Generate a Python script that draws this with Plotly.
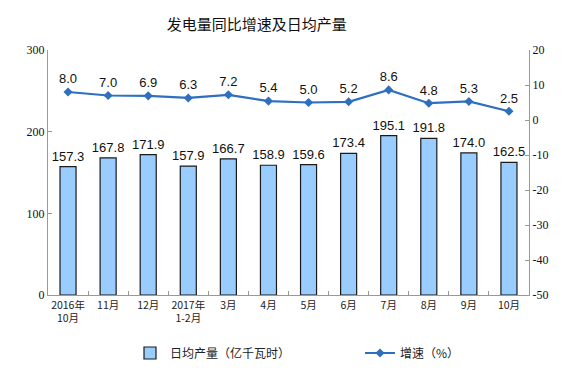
import plotly.graph_objects as go

categories = ["2016年<br>10月", "11月", "12月", "2017年<br>1-2月", "3月", "4月", "5月", "6月", "7月", "8月", "9月", "10月"]
daily_output = [157.3, 167.8, 171.9, 157.9, 166.7, 158.9, 159.6, 173.4, 195.1, 191.8, 174.0, 162.5]
growth = [8.0, 7.0, 6.9, 6.3, 7.2, 5.4, 5.0, 5.2, 8.6, 4.8, 5.3, 2.5]
left_ticks = [0, 100, 200, 300]
right_ticks = [20, 10, 0, -10, -20, -30, -40, -50]

fig = go.Figure()
fig.add_trace(go.Bar(
    x=categories, y=daily_output, name="日均产量（亿千瓦时）",
    marker=dict(color="#99CCFF", line=dict(color="#1a1a1a", width=1.2)),
    width=0.4,
    text=[f"{v:.1f}" for v in daily_output], textposition="outside",
    constraintext="none",
    textfont=dict(family="Liberation Sans, Arial", size=13, color="#111"),
    cliponaxis=False, legend="legend",
))
fig.add_trace(go.Scatter(
    x=categories, y=growth, name="增速（%）", yaxis="y2",
    mode="lines+markers+text",
    line=dict(color="#2E6FC0", width=2.2),
    marker=dict(symbol="diamond", size=7, color="#2E6FC0"),
    text=[f"{v:.1f}" for v in growth], textposition="top center",
    textfont=dict(family="Liberation Sans, Arial", size=13, color="#111"),
    cliponaxis=False, legend="legend2",
))

legend_font = dict(family="Noto Sans CJK SC", size=12, color="#222")
leg_y = (287 - 345) / 245
fig.update_layout(
    width=576, height=377,
    margin=dict(l=40, r=55, t=42, b=90, autoexpand=False),
    paper_bgcolor="white", plot_bgcolor="white",
    title=dict(text="发电量同比增速及日均产量", x=0.432, xanchor="center", y=0.955, yanchor="middle",
               font=dict(family="Noto Sans CJK SC", size=15, color="#111")),
    showlegend=True,
    legend=dict(x=(122 - 40) / 481, xanchor="left", y=leg_y,
                yanchor="middle", font=legend_font, itemwidth=30, bgcolor="rgba(0,0,0,0)"),
    legend2=dict(x=(352 - 40) / 481, xanchor="left", y=leg_y,
                 yanchor="middle", font=legend_font, itemwidth=30, bgcolor="rgba(0,0,0,0)"),
    xaxis=dict(type="category", showline=True, linecolor="#999", linewidth=1,
               ticks="inside", tickson="boundaries", ticklen=4, tickcolor="#999",
               tickangle=0,
               tickfont=dict(family="Noto Sans CJK SC", size=10.5, color="#222"),
               showgrid=False, range=[-0.5, 11.5]),
    yaxis=dict(range=[0, 300], tickvals=left_ticks, ticktext=[str(v) for v in left_ticks],
               showline=True, linecolor="#999",
               ticks="inside", ticklen=4, tickcolor="#999", showgrid=False, zeroline=False,
               tickfont=dict(family="Liberation Serif", size=12, color="#111")),
    yaxis2=dict(range=[-50, 20], tickvals=right_ticks, ticktext=[str(v) for v in right_ticks],
                overlaying="y", side="right",
                showline=True, linecolor="#999", ticks="inside", ticklen=4, tickcolor="#999",
                showgrid=False, zeroline=False,
                tickfont=dict(family="Liberation Serif", size=12, color="#111")),
)

fig.write_html("out.html")
